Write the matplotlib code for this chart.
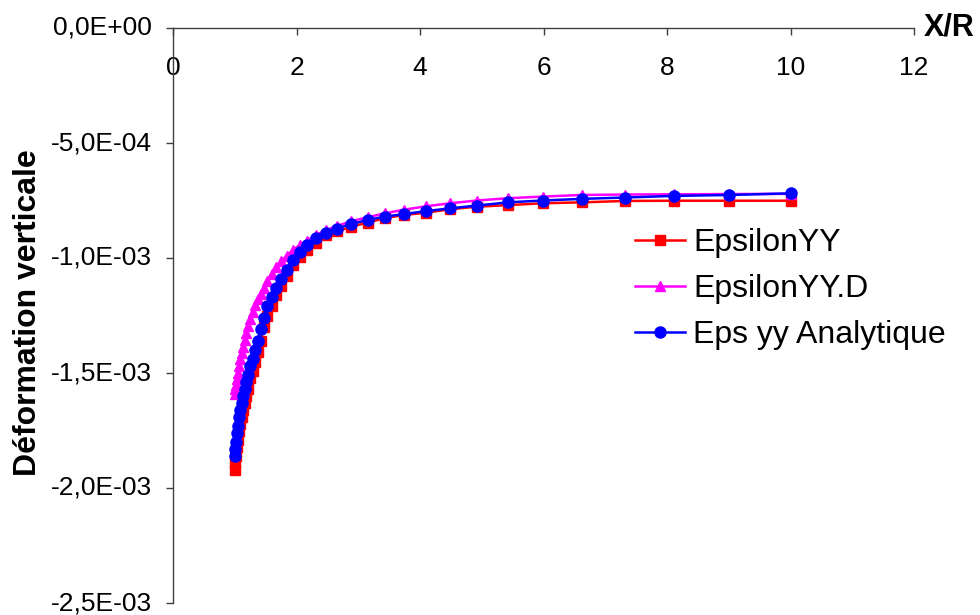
import numpy as np
import matplotlib
matplotlib.use("Agg")
import matplotlib.pyplot as plt

plt.rcParams['font.family'] = ['Liberation Sans', 'DejaVu Sans']

# ---------------------------
# Data (strains in units of 1E-3)
# ---------------------------
x_r = [1.00, 1.01, 1.02, 1.035, 1.05, 1.07, 1.09, 1.11, 1.135, 1.16, 1.19, 1.22,
       1.255, 1.29, 1.33, 1.37, 1.42, 1.47, 1.53, 1.60, 1.67, 1.75, 1.84, 1.94,
       2.05, 2.17, 2.31, 2.47, 2.66, 2.89, 3.15, 3.43, 3.74, 4.10, 4.49, 4.92,
       5.43, 5.99, 6.62, 7.32, 8.11, 9.00, 10.00]

eps_yy = [-1.92, -1.89, -1.86, -1.82, -1.79, -1.75, -1.72, -1.69, -1.66, -1.63,
          -1.60, -1.57, -1.52, -1.49, -1.45, -1.41, -1.36, -1.30, -1.25, -1.21,
          -1.16, -1.12, -1.08, -1.03, -0.995, -0.965, -0.935, -0.902, -0.884,
          -0.864, -0.846, -0.827, -0.813, -0.803, -0.788, -0.777, -0.770, -0.762,
          -0.758, -0.752, -0.751, -0.751, -0.751]

eps_yy_d = [-1.59, -1.57, -1.55, -1.525, -1.50, -1.47, -1.44, -1.415, -1.385,
            -1.355, -1.325, -1.295, -1.265, -1.235, -1.205, -1.18, -1.155, -1.13,
            -1.10, -1.07, -1.04, -1.015, -0.99, -0.965, -0.945, -0.925, -0.900,
            -0.880, -0.860, -0.840, -0.823, -0.806, -0.790, -0.775, -0.762, -0.750,
            -0.740, -0.733, -0.726, -0.724, -0.723, -0.722, -0.721]

eps_yy_an = [-1.86, -1.83, -1.80, -1.76, -1.73, -1.69, -1.66, -1.63, -1.60, -1.57,
             -1.54, -1.51, -1.47, -1.44, -1.40, -1.36, -1.31, -1.26, -1.21, -1.17,
             -1.13, -1.09, -1.05, -1.01, -0.975, -0.945, -0.915, -0.89, -0.872,
             -0.852, -0.835, -0.82, -0.809, -0.796, -0.784, -0.772, -0.758, -0.750,
             -0.743, -0.737, -0.730, -0.726, -0.719]

labels = ["EpsilonYY", "EpsilonYY.D", "Eps yy Analytique"]
x_ticks = [0, 2, 4, 6, 8, 10, 12]
y_ticks = [0.0, -0.5e-3, -1.0e-3, -1.5e-3, -2.0e-3, -2.5e-3]
y_tick_labels = ["0,0E+00", "-5,0E-04", "-1,0E-03", "-1,5E-03", "-2,0E-03", "-2,5E-03"]

# ---------------------------
# Figure
# ---------------------------
fig = plt.figure(figsize=(9.8, 6.15), dpi=100)
ax = fig.add_axes([173 / 980, 1 - 603 / 615, (914 - 173) / 980, (603 - 28) / 615])

ax.plot(x_r, np.array(eps_yy) * 1e-3, "-s", color="#FF0000", lw=1.8,
        ms=7, mec="#FF0000", label=labels[0])
ax.plot(x_r, np.array(eps_yy_d) * 1e-3, "-^", color="#FF00FF", lw=1.8,
        ms=7, mec="#FF00FF", label=labels[1])
ax.plot(x_r, np.array(eps_yy_an) * 1e-3, "-o", color="#0000FF", lw=1.8,
        ms=8, mec="#0000FF", label=labels[2])

ax.set_xlim(0, 12)
ax.set_ylim(-2.5e-3, 0)

# axes: left spine at x=0, horizontal axis at y=0 (top), labels below it
ax.spines["right"].set_visible(False)
ax.spines["top"].set_visible(False)
ax.spines["bottom"].set_position(("data", 0))
for s in ("left", "bottom"):
    ax.spines[s].set_color("#404040")
    ax.spines[s].set_linewidth(1.0)

ax.set_xticks(x_ticks)
ax.set_yticks(y_ticks)
ax.set_yticklabels(y_tick_labels)
ax.tick_params(axis="x", direction="out", length=5, width=1, color="#404040",
               labelsize=19, pad=15)
ax.tick_params(axis="y", direction="out", length=5, width=1, color="#404040",
               labelsize=19, pad=10)
for lab in ax.get_xticklabels() + ax.get_yticklabels():
    lab.set_clip_on(False)
for lab in ax.get_yticklabels():
    lab.set_verticalalignment("center")

ax.set_ylabel("Déformation verticale", fontsize=23, fontweight="bold")
ax.yaxis.set_label_coords(-0.176, 0.505)
fig.text(924 / 980, 1 - 28 / 615, "X/R", fontsize=22, fontweight="bold",
         ha="left", va="center")

ax.legend(loc="upper left", bbox_to_anchor=(635 / 980, 1 - 228 / 615),
          bbox_transform=fig.transFigure, frameon=False, fontsize=23,
          borderpad=0, borderaxespad=0, handlelength=1.57, handletextpad=0.25,
          labelspacing=0.5)

fig.savefig("out.png", dpi=100)
